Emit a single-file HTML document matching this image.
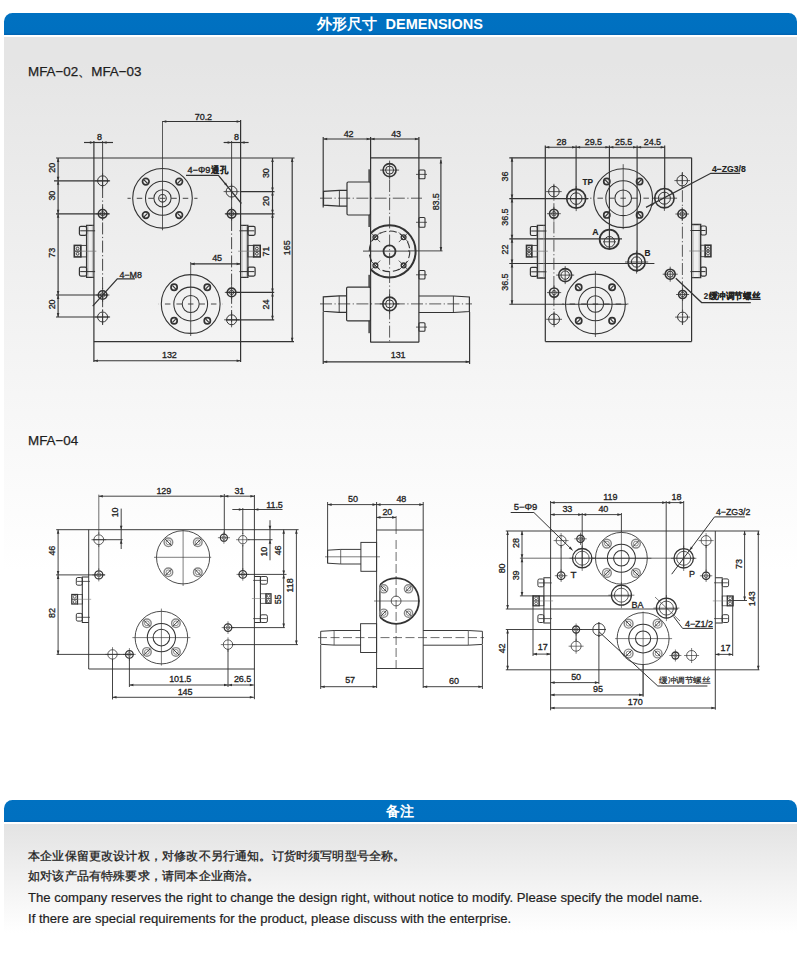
<!DOCTYPE html>
<html><head><meta charset="utf-8">
<style>
html,body{margin:0;padding:0;background:#fff;width:797px;height:964px;overflow:hidden;font-family:"Liberation Sans",sans-serif;}
.bar{position:absolute;left:4px;width:792.5px;height:22px;background:linear-gradient(#0071c1 0,#0070c0 19.5px,#0062b0 22px);border-radius:8.5px 8.5px 0 0;color:#fff;font-weight:bold;font-size:14.5px;text-align:center;line-height:22px;}
.panel1{position:absolute;left:4px;top:36.5px;width:793px;height:540px;background:linear-gradient(#e5e5e5 0px,#e5e5e5 24px,#ffffff 534px);}
.panel2{position:absolute;left:4px;top:823.5px;width:793px;height:110px;background:linear-gradient(#e3e3e3 0px,#ffffff 109px);}
.lbl{position:absolute;font-size:13.4px;color:#1e1e1e;white-space:nowrap;-webkit-text-stroke:0.25px #1e1e1e;}
.note{position:absolute;left:28px;font-size:13.1px;color:#1e1e1e;white-space:nowrap;-webkit-text-stroke:0.2px #1e1e1e;}
svg{position:absolute;left:0;top:0;}
</style></head><body>
<div class="panel1"></div>
<div class="bar" style="top:12.8px;">外形尺寸&nbsp; DEMENSIONS</div>
<div class="lbl" style="left:28px;top:62.5px;">MFA−02、MFA−03</div>
<div class="lbl" style="left:28px;top:432.6px;">MFA−04</div>
<div class="panel2"></div>
<div class="bar" style="top:800px;font-size:14px;">备注</div>
<div class="note" style="top:848px;font-size:12.2px;letter-spacing:0.18px;-webkit-text-stroke:0.3px #1e1e1e;">本企业保留更改设计权，对修改不另行通知。订货时须写明型号全称。</div>
<div class="note" style="top:868px;font-size:12.2px;letter-spacing:0.18px;-webkit-text-stroke:0.3px #1e1e1e;">如对该产品有特殊要求，请同本企业商洽。</div>
<div class="note" style="top:890px;">The company reserves the right to change the design right, without notice to modify. Please specify the model name.</div>
<div class="note" style="top:911px;">If there are special requirements for the product, please discuss with the enterprise.</div>
<svg width="797" height="964" viewBox="0 0 797 964" font-family="Liberation Sans, sans-serif" fill="none" stroke="#333">

<line x1="56" y1="158" x2="294.5" y2="158" stroke-width="1.2"/>
<line x1="93.9" y1="141" x2="93.9" y2="362" stroke-width="1.2"/>
<line x1="240.6" y1="120" x2="240.6" y2="362" stroke-width="1.2"/>
<line x1="93.9" y1="341.7" x2="294" y2="341.7" stroke-width="1.2"/>
<line x1="102.6" y1="141" x2="102.6" y2="186" stroke-width="0.9"/>
<line x1="102.6" y1="186" x2="102.6" y2="325" stroke-width="0.9" stroke-dasharray="12,2.5,1.2,2.5"/>
<line x1="231.6" y1="141" x2="231.6" y2="219" stroke-width="0.9"/>
<line x1="231.6" y1="219" x2="231.6" y2="325" stroke-width="0.9" stroke-dasharray="12,2.5,1.2,2.5"/>
<line x1="84" y1="142.5" x2="113" y2="142.5" stroke-width="1.15"/>
<polygon points="93.9,142.5 89.9,143.8 89.9,141.2" fill="#333" stroke="none"/>
<polygon points="102.6,142.5 106.6,141.2 106.6,143.8" fill="#333" stroke="none"/>
<text fill="#222" stroke="#222" stroke-width="0.3" x="99.4" y="137" font-size="9" text-anchor="middle" dominant-baseline="central" letter-spacing="-0.1">8</text>
<line x1="223.6" y1="142.5" x2="248.6" y2="142.5" stroke-width="1.15"/>
<polygon points="231.6,142.5 227.6,143.8 227.6,141.2" fill="#333" stroke="none"/>
<polygon points="240.6,142.5 244.6,141.2 244.6,143.8" fill="#333" stroke="none"/>
<text fill="#222" stroke="#222" stroke-width="0.3" x="236.5" y="137" font-size="9" text-anchor="middle" dominant-baseline="central" letter-spacing="-0.1">8</text>
<line x1="162.3" y1="121.5" x2="240.6" y2="121.5" stroke-width="1.15"/>
<polygon points="162.3,121.5 166.3,120.2 166.3,122.8" fill="#333" stroke="none"/>
<polygon points="240.6,121.5 236.6,122.8 236.6,120.2" fill="#333" stroke="none"/>
<text fill="#222" stroke="#222" stroke-width="0.3" x="203.4" y="116.8" font-size="9" text-anchor="middle" dominant-baseline="central" letter-spacing="-0.1">70.2</text>
<line x1="54" y1="180.8" x2="109.5" y2="180.8" stroke-width="1.15"/>
<line x1="56" y1="213.8" x2="109.5" y2="213.8" stroke-width="1.15"/>
<line x1="56" y1="295" x2="108" y2="295" stroke-width="1.15"/>
<line x1="56" y1="317" x2="109.5" y2="317" stroke-width="1.15"/>
<line x1="58.1" y1="158" x2="58.1" y2="213.8" stroke-width="1.15"/>
<polygon points="58.1,158 59.4,162 56.8,162" fill="#333" stroke="none"/>
<polygon points="58.1,180.8 56.8,176.8 59.4,176.8" fill="#333" stroke="none"/>
<text fill="#222" stroke="#222" stroke-width="0.3" x="52.3" y="167.8" font-size="9" text-anchor="middle" dominant-baseline="central" transform="rotate(-90 52.3 167.8)" letter-spacing="-0.1">20</text>
<polygon points="58.1,180.8 59.4,184.8 56.8,184.8" fill="#333" stroke="none"/>
<polygon points="58.1,213.8 56.8,209.8 59.4,209.8" fill="#333" stroke="none"/>
<text fill="#222" stroke="#222" stroke-width="0.3" x="52.3" y="195.7" font-size="9" text-anchor="middle" dominant-baseline="central" transform="rotate(-90 52.3 195.7)" letter-spacing="-0.1">30</text>
<line x1="58.1" y1="213.8" x2="58.1" y2="317" stroke-width="1.15"/>
<polygon points="58.1,213.8 59.4,217.8 56.8,217.8" fill="#333" stroke="none"/>
<polygon points="58.1,295 56.8,291 59.4,291" fill="#333" stroke="none"/>
<text fill="#222" stroke="#222" stroke-width="0.3" x="52.3" y="252.8" font-size="9" text-anchor="middle" dominant-baseline="central" transform="rotate(-90 52.3 252.8)" letter-spacing="-0.1">73</text>
<polygon points="58.1,295 59.4,299 56.8,299" fill="#333" stroke="none"/>
<polygon points="58.1,317 56.8,313 59.4,313" fill="#333" stroke="none"/>
<text fill="#222" stroke="#222" stroke-width="0.3" x="52.3" y="304.4" font-size="9" text-anchor="middle" dominant-baseline="central" transform="rotate(-90 52.3 304.4)" letter-spacing="-0.1">20</text>
<line x1="240.6" y1="191.6" x2="274.5" y2="191.6" stroke-width="1.15"/>
<line x1="225.4" y1="213.8" x2="274.5" y2="213.8" stroke-width="1.15"/>
<line x1="225.9" y1="292.4" x2="274.2" y2="292.4" stroke-width="1.15"/>
<line x1="225.9" y1="319.8" x2="274.2" y2="319.8" stroke-width="1.15"/>
<line x1="272.5" y1="158" x2="272.5" y2="319.8" stroke-width="1.15"/>
<polygon points="272.5,158 273.8,162 271.2,162" fill="#333" stroke="none"/>
<polygon points="272.5,191.6 271.2,187.6 273.8,187.6" fill="#333" stroke="none"/>
<text fill="#222" stroke="#222" stroke-width="0.3" x="266.3" y="173.2" font-size="9" text-anchor="middle" dominant-baseline="central" transform="rotate(-90 266.3 173.2)" letter-spacing="-0.1">30</text>
<polygon points="272.5,191.6 273.8,195.6 271.2,195.6" fill="#333" stroke="none"/>
<polygon points="272.5,213.8 271.2,209.8 273.8,209.8" fill="#333" stroke="none"/>
<text fill="#222" stroke="#222" stroke-width="0.3" x="266.3" y="201.1" font-size="9" text-anchor="middle" dominant-baseline="central" transform="rotate(-90 266.3 201.1)" letter-spacing="-0.1">20</text>
<polygon points="272.5,213.8 273.8,217.8 271.2,217.8" fill="#333" stroke="none"/>
<polygon points="272.5,292.4 271.2,288.4 273.8,288.4" fill="#333" stroke="none"/>
<text fill="#222" stroke="#222" stroke-width="0.3" x="266.3" y="251.5" font-size="9" text-anchor="middle" dominant-baseline="central" transform="rotate(-90 266.3 251.5)" letter-spacing="-0.1">71</text>
<polygon points="272.5,292.4 273.8,296.4 271.2,296.4" fill="#333" stroke="none"/>
<polygon points="272.5,319.8 271.2,315.8 273.8,315.8" fill="#333" stroke="none"/>
<text fill="#222" stroke="#222" stroke-width="0.3" x="266.3" y="304.5" font-size="9" text-anchor="middle" dominant-baseline="central" transform="rotate(-90 266.3 304.5)" letter-spacing="-0.1">24</text>
<line x1="292.2" y1="158" x2="292.2" y2="341.7" stroke-width="1.15"/>
<polygon points="292.2,158 293.5,162 290.9,162" fill="#333" stroke="none"/>
<polygon points="292.2,341.7 290.9,337.7 293.5,337.7" fill="#333" stroke="none"/>
<text fill="#222" stroke="#222" stroke-width="0.3" x="286.8" y="247.8" font-size="9" text-anchor="middle" dominant-baseline="central" transform="rotate(-90 286.8 247.8)" letter-spacing="-0.1">165</text>
<line x1="93.9" y1="360.7" x2="240.6" y2="360.7" stroke-width="1.15"/>
<polygon points="93.9,360.7 97.9,359.4 97.9,362" fill="#333" stroke="none"/>
<polygon points="240.6,360.7 236.6,362 236.6,359.4" fill="#333" stroke="none"/>
<text fill="#222" stroke="#222" stroke-width="0.3" x="169.4" y="355.2" font-size="9" text-anchor="middle" dominant-baseline="central" letter-spacing="-0.1">132</text>
<line x1="190.7" y1="262" x2="190.7" y2="262" stroke-width="1.15"/>
<line x1="190.7" y1="263.9" x2="240.6" y2="263.9" stroke-width="1.15"/>
<polygon points="190.7,263.9 194.7,262.6 194.7,265.2" fill="#333" stroke="none"/>
<polygon points="240.6,263.9 236.6,265.2 236.6,262.6" fill="#333" stroke="none"/>
<text fill="#222" stroke="#222" stroke-width="0.3" x="217.1" y="258" font-size="9" text-anchor="middle" dominant-baseline="central" letter-spacing="-0.1">45</text>
<circle cx="102.6" cy="180.8" r="5" stroke-width="1"/>
<line x1="95.1" y1="180.8" x2="110.1" y2="180.8" stroke-width="0.8"/>
<line x1="102.6" y1="173.3" x2="102.6" y2="188.3" stroke-width="0.8"/>
<circle cx="102.6" cy="213.8" r="4.3" stroke-width="1.6"/>
<circle cx="102.6" cy="213.8" r="2.2" stroke-width="0.8"/>
<line x1="95.8" y1="213.8" x2="109.4" y2="213.8" stroke-width="0.8"/>
<line x1="102.6" y1="207" x2="102.6" y2="220.6" stroke-width="0.8"/>
<circle cx="102.6" cy="295" r="4.3" stroke-width="1.6"/>
<circle cx="102.6" cy="295" r="2.2" stroke-width="0.8"/>
<line x1="95.8" y1="295" x2="109.4" y2="295" stroke-width="0.8"/>
<line x1="102.6" y1="288.2" x2="102.6" y2="301.8" stroke-width="0.8"/>
<circle cx="102.6" cy="317" r="5" stroke-width="1"/>
<line x1="95.1" y1="317" x2="110.1" y2="317" stroke-width="0.8"/>
<line x1="102.6" y1="309.5" x2="102.6" y2="324.5" stroke-width="0.8"/>
<circle cx="231.6" cy="191.6" r="5.5" stroke-width="1"/>
<line x1="223.6" y1="191.6" x2="239.6" y2="191.6" stroke-width="0.8"/>
<line x1="231.6" y1="183.6" x2="231.6" y2="199.6" stroke-width="0.8"/>
<circle cx="231.6" cy="213.8" r="4.3" stroke-width="1.6"/>
<circle cx="231.6" cy="213.8" r="2.2" stroke-width="0.8"/>
<line x1="224.8" y1="213.8" x2="238.4" y2="213.8" stroke-width="0.8"/>
<line x1="231.6" y1="207" x2="231.6" y2="220.6" stroke-width="0.8"/>
<circle cx="231.6" cy="292.4" r="4.3" stroke-width="1.6"/>
<circle cx="231.6" cy="292.4" r="2.2" stroke-width="0.8"/>
<line x1="224.8" y1="292.4" x2="238.4" y2="292.4" stroke-width="0.8"/>
<line x1="231.6" y1="285.6" x2="231.6" y2="299.2" stroke-width="0.8"/>
<circle cx="231.6" cy="319.8" r="5" stroke-width="1"/>
<line x1="224.1" y1="319.8" x2="239.1" y2="319.8" stroke-width="0.8"/>
<line x1="231.6" y1="312.3" x2="231.6" y2="327.3" stroke-width="0.8"/>
<circle cx="162.5" cy="198.3" r="29.8" stroke-width="1.1"/>
<circle cx="162.5" cy="198.3" r="17" stroke-width="1.05"/>
<circle cx="162.5" cy="198.3" r="8.6" stroke-width="1.05"/>
<circle cx="162.5" cy="198.3" r="3.8" stroke-width="1.05"/>
<circle cx="145.8" cy="181.6" r="3.3" stroke-width="1.7"/>
<line x1="147.5" y1="183.3" x2="144" y2="179.8" stroke-width="1.2"/>
<circle cx="145.8" cy="215.1" r="3.3" stroke-width="1.7"/>
<line x1="147.5" y1="213.3" x2="144" y2="216.8" stroke-width="1.2"/>
<circle cx="179.2" cy="181.6" r="3.3" stroke-width="1.7"/>
<line x1="177.5" y1="183.3" x2="181" y2="179.8" stroke-width="1.2"/>
<circle cx="179.2" cy="215.1" r="3.3" stroke-width="1.7"/>
<line x1="177.5" y1="213.3" x2="181" y2="216.8" stroke-width="1.2"/>
<line x1="127.5" y1="198.3" x2="197.5" y2="198.3" stroke-width="0.9" stroke-dasharray="5.5,6" stroke-dashoffset="2.25"/>
<line x1="162.5" y1="121.3" x2="162.5" y2="230.3" stroke-width="0.8"/>
<circle cx="190.7" cy="304" r="29.4" stroke-width="1.1"/>
<circle cx="190.7" cy="304" r="16.9" stroke-width="1.05"/>
<circle cx="190.7" cy="304" r="8.5" stroke-width="1.05"/>
<circle cx="174.1" cy="287.3" r="3.1" stroke-width="1.7"/>
<line x1="175.7" y1="288.9" x2="172.5" y2="285.7" stroke-width="1.2"/>
<circle cx="174.1" cy="320.7" r="3.1" stroke-width="1.7"/>
<line x1="175.7" y1="319.1" x2="172.5" y2="322.3" stroke-width="1.2"/>
<circle cx="207.3" cy="287.3" r="3.1" stroke-width="1.7"/>
<line x1="205.7" y1="288.9" x2="208.9" y2="285.7" stroke-width="1.2"/>
<circle cx="207.3" cy="320.7" r="3.1" stroke-width="1.7"/>
<line x1="205.7" y1="319.1" x2="208.9" y2="322.3" stroke-width="1.2"/>
<line x1="158.7" y1="304" x2="222.7" y2="304" stroke-width="0.9" stroke-dasharray="5.5,6" stroke-dashoffset="5.25"/>
<line x1="190.7" y1="262" x2="190.7" y2="336" stroke-width="0.8"/>
<polyline points="93.9,225.4 86.6,225.4 86.6,277.3 93.9,277.3" stroke-width="1.3"/>
<line x1="92.4" y1="225.4" x2="92.4" y2="277.3" stroke-width="0.6" stroke="#999"/>
<line x1="88.1" y1="225.4" x2="88.1" y2="277.3" stroke-width="0.6" stroke="#999"/>
<rect x="79.4" y="226.3" width="7.2" height="9" stroke-width="1.2" rx="1.5"/>
<line x1="80.2" y1="230.8" x2="95.1" y2="230.8" stroke-width="1"/>
<rect x="79.4" y="267.1" width="7.2" height="9" stroke-width="1.2" rx="1.5"/>
<line x1="80.2" y1="271.6" x2="95.1" y2="271.6" stroke-width="1"/>
<rect x="80.8" y="245.4" width="5.8" height="11.5" stroke-width="0.9"/>
<rect x="74.3" y="245.4" width="6.5" height="11.5" stroke-width="1.6"/>
<circle cx="77.6" cy="248.6" r="1.4" stroke-width="0.9"/>
<circle cx="77.6" cy="253.8" r="1.4" stroke-width="0.9"/>
<line x1="74.3" y1="251.2" x2="80.8" y2="251.2" stroke-width="1.2"/>
<line x1="74.3" y1="251.2" x2="96.4" y2="251.2" stroke-width="0.7" stroke="#777"/>
<polyline points="240.6,225.4 247.9,225.4 247.9,277.3 240.6,277.3" stroke-width="1.3"/>
<line x1="242.1" y1="225.4" x2="242.1" y2="277.3" stroke-width="0.6" stroke="#999"/>
<line x1="246.4" y1="225.4" x2="246.4" y2="277.3" stroke-width="0.6" stroke="#999"/>
<rect x="247.9" y="226.3" width="7.2" height="9" stroke-width="1.2" rx="1.5"/>
<line x1="254.3" y1="230.8" x2="239.4" y2="230.8" stroke-width="1"/>
<rect x="247.9" y="267.1" width="7.2" height="9" stroke-width="1.2" rx="1.5"/>
<line x1="254.3" y1="271.6" x2="239.4" y2="271.6" stroke-width="1"/>
<rect x="247.9" y="245.4" width="5.8" height="11.5" stroke-width="0.9"/>
<rect x="253.7" y="245.4" width="6.5" height="11.5" stroke-width="1.6"/>
<circle cx="256.9" cy="248.6" r="1.4" stroke-width="0.9"/>
<circle cx="256.9" cy="253.8" r="1.4" stroke-width="0.9"/>
<line x1="253.7" y1="251.2" x2="260.2" y2="251.2" stroke-width="1.2"/>
<line x1="260.2" y1="251.2" x2="238.1" y2="251.2" stroke-width="0.7" stroke="#777"/>
<text fill="#222" stroke="#222" stroke-width="0.35" x="187.5" y="170.4" font-size="9" text-anchor="start" dominant-baseline="central" textLength="22.8" lengthAdjust="spacingAndGlyphs">4−Φ9</text>
<text fill="#222" stroke="#222" stroke-width="0.15" x="211.2" y="170.4" font-size="8.5" text-anchor="start" dominant-baseline="central" font-weight="bold" textLength="16.7" lengthAdjust="spacingAndGlyphs">通孔</text>
<polyline points="186,175.3 218.4,175.3 241.4,203.5" stroke-width="1.25"/>
<polygon points="227.5,186.3 224,184 226,182.4" fill="#333" stroke="none"/>
<text fill="#222" stroke="#222" stroke-width="0.3" x="119.4" y="274.6" font-size="9" text-anchor="start" dominant-baseline="central" textLength="22.6" lengthAdjust="spacingAndGlyphs">4−M8</text>
<polyline points="134.9,278.8 117.3,278.8 92.7,306.1" stroke-width="1.25"/>
<line x1="323.2" y1="139" x2="418.9" y2="139" stroke-width="1.15"/>
<polygon points="323.2,139 327.2,137.7 327.2,140.3" fill="#333" stroke="none"/>
<polygon points="370.6,139 366.6,140.3 366.6,137.7" fill="#333" stroke="none"/>
<polygon points="370.6,139 374.6,137.7 374.6,140.3" fill="#333" stroke="none"/>
<polygon points="418.9,139 414.9,140.3 414.9,137.7" fill="#333" stroke="none"/>
<text fill="#222" stroke="#222" stroke-width="0.3" x="348.6" y="133.7" font-size="9" text-anchor="middle" dominant-baseline="central" letter-spacing="-0.1">42</text>
<text fill="#222" stroke="#222" stroke-width="0.3" x="396.1" y="133.7" font-size="9" text-anchor="middle" dominant-baseline="central" letter-spacing="-0.1">43</text>
<line x1="323.2" y1="137" x2="323.2" y2="207.5" stroke-width="1.15"/>
<line x1="370.6" y1="137" x2="370.6" y2="342.2" stroke-width="1.2"/>
<line x1="418.9" y1="137" x2="418.9" y2="342.2" stroke-width="1.2"/>
<line x1="370.6" y1="157.8" x2="441.7" y2="157.8" stroke-width="1.2"/>
<line x1="370.4" y1="342.2" x2="418.9" y2="342.2" stroke-width="1.2"/>
<line x1="369.3" y1="169.3" x2="369.3" y2="182" stroke-width="2" stroke="#555"/>
<line x1="369.3" y1="215" x2="369.3" y2="227" stroke-width="2" stroke="#555"/>
<line x1="369.3" y1="274.8" x2="369.3" y2="287.1" stroke-width="2" stroke="#555"/>
<line x1="369.3" y1="320.9" x2="369.3" y2="333.2" stroke-width="2" stroke="#555"/>
<rect x="347" y="182" width="23.3" height="33" stroke-width="1.2" rx="1.2"/>
<polyline points="347,190.4 339.4,190.4 323.5,191.4 323.5,205.2 339.4,206.2 347,206.2" stroke-width="1.2"/>
<line x1="339.4" y1="190.4" x2="339.4" y2="206.2" stroke-width="0.9"/>
<line x1="320" y1="198.2" x2="422" y2="198.2" stroke-width="0.8" stroke-dasharray="12,2.5,1.2,2.5"/>
<circle cx="389.6" cy="170.1" r="6.5" stroke-width="1.6"/>
<circle cx="389.6" cy="170.1" r="4" stroke-width="1"/>
<line x1="380.1" y1="170.1" x2="399.1" y2="170.1" stroke-width="0.8"/>
<line x1="389.6" y1="160.6" x2="389.6" y2="179.6" stroke-width="0.8"/>
<line x1="389.6" y1="180" x2="389.6" y2="342" stroke-width="0.8" stroke-dasharray="12,2.5,1.2,2.5"/>
<rect x="418.9" y="170" width="6.1" height="8.8" stroke-width="1.1" rx="1"/>
<line x1="416" y1="174.4" x2="427" y2="174.4" stroke-width="0.8"/>
<rect x="418.9" y="217.5" width="6.1" height="9.7" stroke-width="1.1" rx="1"/>
<line x1="416" y1="222.3" x2="427" y2="222.3" stroke-width="0.8"/>
<rect x="418.9" y="270.5" width="6.1" height="8.5" stroke-width="1.1" rx="1"/>
<line x1="416" y1="274.8" x2="427" y2="274.8" stroke-width="0.8"/>
<rect x="418.9" y="322.8" width="6.1" height="8.5" stroke-width="1.1" rx="1"/>
<line x1="416" y1="327.1" x2="427" y2="327.1" stroke-width="0.8"/>
<line x1="440.9" y1="159.5" x2="440.9" y2="250.9" stroke-width="1.15"/>
<polygon points="440.9,159.5 442.2,163.5 439.6,163.5" fill="#333" stroke="none"/>
<polygon points="440.9,250.9 439.6,246.9 442.2,246.9" fill="#333" stroke="none"/>
<text fill="#222" stroke="#222" stroke-width="0.3" x="435.6" y="201.8" font-size="9" text-anchor="middle" dominant-baseline="central" transform="rotate(-90 435.6 201.8)" letter-spacing="-0.1">83.5</text>
<line x1="408" y1="250.9" x2="442.5" y2="250.9" stroke-width="0.9"/>
<defs><clipPath id="cp2"><rect x="370.6" y="200" width="60" height="100"/></clipPath></defs>
<g clip-path="url(#cp2)">
<circle cx="389.5" cy="251.3" r="26.1" stroke-width="2"/>
</g>
<circle cx="389.5" cy="251.3" r="20.3" stroke-width="1.1" stroke-dasharray="7,3.6"/>
<circle cx="389.5" cy="251.3" r="6" stroke-width="1.8"/>
<circle cx="375.4" cy="237.2" r="2.4" stroke-width="1.3"/>
<line x1="370.6" y1="232.4" x2="380.2" y2="242.1" stroke-width="0.8"/>
<line x1="370.6" y1="242.1" x2="380.2" y2="232.4" stroke-width="0.8"/>
<circle cx="375.4" cy="265.4" r="2.4" stroke-width="1.3"/>
<line x1="370.6" y1="260.6" x2="380.2" y2="270.2" stroke-width="0.8"/>
<line x1="370.6" y1="270.2" x2="380.2" y2="260.6" stroke-width="0.8"/>
<circle cx="403.6" cy="237.2" r="2.4" stroke-width="1.3"/>
<line x1="398.8" y1="232.4" x2="408.4" y2="242.1" stroke-width="0.8"/>
<line x1="398.8" y1="242.1" x2="408.4" y2="232.4" stroke-width="0.8"/>
<circle cx="403.6" cy="265.4" r="2.4" stroke-width="1.3"/>
<line x1="398.8" y1="260.6" x2="408.4" y2="270.2" stroke-width="0.8"/>
<line x1="398.8" y1="270.2" x2="408.4" y2="260.6" stroke-width="0.8"/>
<line x1="363" y1="251.1" x2="410" y2="251.1" stroke-width="0.9"/>
<rect x="346.6" y="287.1" width="23.8" height="33.8" stroke-width="1.2" rx="1.2"/>
<polyline points="346.6,295.9 339.2,295.9 323.3,296.9 323.3,311.3 339.2,312.3 346.6,312.3" stroke-width="1.2"/>
<line x1="339.2" y1="295.9" x2="339.2" y2="312.3" stroke-width="0.9"/>
<polyline points="418.9,296 453.4,296 469.4,297 469.4,311.5 453.4,312.5 418.9,312.5" stroke-width="1.2"/>
<line x1="453.4" y1="296" x2="453.4" y2="312.5" stroke-width="0.9"/>
<line x1="320" y1="303.9" x2="472" y2="303.9" stroke-width="0.8" stroke-dasharray="12,2.5,1.2,2.5"/>
<circle cx="389.6" cy="303.9" r="6.8" stroke-width="1.6"/>
<circle cx="389.6" cy="303.9" r="4" stroke-width="1"/>
<line x1="379.8" y1="303.9" x2="399.4" y2="303.9" stroke-width="0.8"/>
<line x1="389.6" y1="294.1" x2="389.6" y2="313.7" stroke-width="0.8"/>
<line x1="323.2" y1="361.8" x2="469.6" y2="361.8" stroke-width="1.15"/>
<polygon points="323.2,361.8 327.2,360.5 327.2,363.1" fill="#333" stroke="none"/>
<polygon points="469.6,361.8 465.6,363.1 465.6,360.5" fill="#333" stroke="none"/>
<text fill="#222" stroke="#222" stroke-width="0.3" x="398.1" y="355.4" font-size="9" text-anchor="middle" dominant-baseline="central" letter-spacing="-0.1">131</text>
<line x1="323.2" y1="312" x2="323.2" y2="364" stroke-width="1.15"/>
<line x1="469.6" y1="312" x2="469.6" y2="364" stroke-width="1.15"/>
<line x1="509.3" y1="157.8" x2="691.6" y2="157.8" stroke-width="1.2"/>
<line x1="545.3" y1="145.5" x2="545.3" y2="341.6" stroke-width="1.2"/>
<line x1="691.6" y1="157.8" x2="691.6" y2="341.6" stroke-width="1.2"/>
<line x1="545.3" y1="341.6" x2="691.6" y2="341.6" stroke-width="1.2"/>
<line x1="545.3" y1="147.2" x2="664.7" y2="147.2" stroke-width="1.15"/>
<polygon points="545.3,147.2 549.3,145.9 549.3,148.5" fill="#333" stroke="none"/>
<polygon points="576.1,147.2 572.1,148.5 572.1,145.9" fill="#333" stroke="none"/>
<text fill="#222" stroke="#222" stroke-width="0.3" x="561.5" y="142" font-size="9" text-anchor="middle" dominant-baseline="central" letter-spacing="-0.1">28</text>
<polygon points="576.1,147.2 580.1,145.9 580.1,148.5" fill="#333" stroke="none"/>
<polygon points="609.4,147.2 605.4,148.5 605.4,145.9" fill="#333" stroke="none"/>
<text fill="#222" stroke="#222" stroke-width="0.3" x="593.3" y="142" font-size="9" text-anchor="middle" dominant-baseline="central" letter-spacing="-0.1">29.5</text>
<polygon points="609.4,147.2 613.4,145.9 613.4,148.5" fill="#333" stroke="none"/>
<polygon points="637.1,147.2 633.1,148.5 633.1,145.9" fill="#333" stroke="none"/>
<text fill="#222" stroke="#222" stroke-width="0.3" x="623.6" y="142" font-size="9" text-anchor="middle" dominant-baseline="central" letter-spacing="-0.1">25.5</text>
<polygon points="637.1,147.2 641.1,145.9 641.1,148.5" fill="#333" stroke="none"/>
<polygon points="664.7,147.2 660.7,148.5 660.7,145.9" fill="#333" stroke="none"/>
<text fill="#222" stroke="#222" stroke-width="0.3" x="652.4" y="142" font-size="9" text-anchor="middle" dominant-baseline="central" letter-spacing="-0.1">24.5</text>
<line x1="576.1" y1="145.5" x2="576.1" y2="208" stroke-width="1.15"/>
<line x1="609.4" y1="145.5" x2="609.4" y2="249" stroke-width="1.15"/>
<line x1="637.1" y1="145.5" x2="637.1" y2="272" stroke-width="1.15"/>
<line x1="664.7" y1="145.5" x2="664.7" y2="207" stroke-width="1.15"/>
<line x1="509.3" y1="198.6" x2="588" y2="198.6" stroke-width="1.15"/>
<line x1="509.3" y1="238.8" x2="622" y2="238.8" stroke-width="1.15"/>
<line x1="509.3" y1="263.5" x2="654.4" y2="263.5" stroke-width="1.15"/>
<line x1="509.3" y1="304.2" x2="627" y2="304.2" stroke-width="1.15"/>
<line x1="512" y1="157.8" x2="512" y2="304.2" stroke-width="1.15"/>
<polygon points="512,157.8 513.3,161.8 510.7,161.8" fill="#333" stroke="none"/>
<polygon points="512,198.6 510.7,194.6 513.3,194.6" fill="#333" stroke="none"/>
<text fill="#222" stroke="#222" stroke-width="0.3" x="505.5" y="176.6" font-size="9" text-anchor="middle" dominant-baseline="central" transform="rotate(-90 505.5 176.6)" letter-spacing="-0.1">36</text>
<polygon points="512,198.6 513.3,202.6 510.7,202.6" fill="#333" stroke="none"/>
<polygon points="512,238.8 510.7,234.8 513.3,234.8" fill="#333" stroke="none"/>
<text fill="#222" stroke="#222" stroke-width="0.3" x="505.5" y="217.1" font-size="9" text-anchor="middle" dominant-baseline="central" transform="rotate(-90 505.5 217.1)" letter-spacing="-0.1">36.5</text>
<polygon points="512,238.8 513.3,242.8 510.7,242.8" fill="#333" stroke="none"/>
<polygon points="512,263.5 510.7,259.5 513.3,259.5" fill="#333" stroke="none"/>
<text fill="#222" stroke="#222" stroke-width="0.3" x="505.5" y="249.6" font-size="9" text-anchor="middle" dominant-baseline="central" transform="rotate(-90 505.5 249.6)" letter-spacing="-0.1">22</text>
<polygon points="512,263.5 513.3,267.5 510.7,267.5" fill="#333" stroke="none"/>
<polygon points="512,304.2 510.7,300.2 513.3,300.2" fill="#333" stroke="none"/>
<text fill="#222" stroke="#222" stroke-width="0.3" x="505.5" y="282.2" font-size="9" text-anchor="middle" dominant-baseline="central" transform="rotate(-90 505.5 282.2)" letter-spacing="-0.1">36.5</text>
<line x1="553.9" y1="185" x2="553.9" y2="326" stroke-width="0.8" stroke-dasharray="12,2.5,1.2,2.5"/>
<circle cx="553.9" cy="191.6" r="5.3" stroke-width="1"/>
<line x1="546.1" y1="191.6" x2="561.7" y2="191.6" stroke-width="0.8"/>
<line x1="553.9" y1="183.8" x2="553.9" y2="199.4" stroke-width="0.8"/>
<circle cx="553.9" cy="213.7" r="4.4" stroke-width="1.6"/>
<circle cx="553.9" cy="213.7" r="2.2" stroke-width="0.8"/>
<line x1="547" y1="213.7" x2="560.8" y2="213.7" stroke-width="0.8"/>
<line x1="553.9" y1="206.8" x2="553.9" y2="220.6" stroke-width="0.8"/>
<circle cx="554.1" cy="292.6" r="4.6" stroke-width="1.6"/>
<circle cx="554.1" cy="292.6" r="2.2" stroke-width="0.8"/>
<line x1="547" y1="292.6" x2="561.2" y2="292.6" stroke-width="0.8"/>
<line x1="554.1" y1="285.5" x2="554.1" y2="299.7" stroke-width="0.8"/>
<circle cx="554.1" cy="319.3" r="5.4" stroke-width="1"/>
<line x1="546.2" y1="319.3" x2="562" y2="319.3" stroke-width="0.8"/>
<line x1="554.1" y1="311.4" x2="554.1" y2="327.2" stroke-width="0.8"/>
<circle cx="623.2" cy="198.2" r="29.4" stroke-width="1.1"/>
<circle cx="623.2" cy="198.2" r="17.4" stroke-width="1.05"/>
<circle cx="623.2" cy="198.2" r="8.3" stroke-width="1.05"/>
<circle cx="606.8" cy="181.5" r="3.1" stroke-width="1.7"/>
<line x1="608.4" y1="183.2" x2="605.2" y2="179.8" stroke-width="1.2"/>
<circle cx="606.8" cy="214.9" r="3.1" stroke-width="1.7"/>
<line x1="608.4" y1="213.2" x2="605.2" y2="216.6" stroke-width="1.2"/>
<circle cx="639.6" cy="181.5" r="3.1" stroke-width="1.7"/>
<line x1="638" y1="183.2" x2="641.2" y2="179.8" stroke-width="1.2"/>
<circle cx="639.6" cy="214.9" r="3.1" stroke-width="1.7"/>
<line x1="638" y1="213.2" x2="641.2" y2="216.6" stroke-width="1.2"/>
<line x1="590.2" y1="198.2" x2="656.2" y2="198.2" stroke-width="0.9" stroke-dasharray="5.5,6" stroke-dashoffset="4.25"/>
<line x1="623.2" y1="164.2" x2="623.2" y2="229.2" stroke-width="0.8"/>
<circle cx="595.4" cy="304" r="29.9" stroke-width="1.1"/>
<circle cx="595.4" cy="304" r="16.7" stroke-width="1.05"/>
<circle cx="595.4" cy="304" r="8.2" stroke-width="1.05"/>
<circle cx="578.7" cy="287.3" r="3.1" stroke-width="1.7"/>
<line x1="580.3" y1="288.9" x2="577.1" y2="285.7" stroke-width="1.2"/>
<circle cx="578.7" cy="320.7" r="3.1" stroke-width="1.7"/>
<line x1="580.3" y1="319.1" x2="577.1" y2="322.3" stroke-width="1.2"/>
<circle cx="612.1" cy="287.3" r="3.1" stroke-width="1.7"/>
<line x1="610.5" y1="288.9" x2="613.7" y2="285.7" stroke-width="1.2"/>
<circle cx="612.1" cy="320.7" r="3.1" stroke-width="1.7"/>
<line x1="610.5" y1="319.1" x2="613.7" y2="322.3" stroke-width="1.2"/>
<line x1="562.4" y1="304" x2="628.4" y2="304" stroke-width="0.9" stroke-dasharray="5.5,6" stroke-dashoffset="4.25"/>
<line x1="595.4" y1="271" x2="595.4" y2="337" stroke-width="0.8"/>
<circle cx="576.2" cy="198.6" r="9.5" stroke-width="1.6"/>
<circle cx="576.2" cy="198.6" r="5.8" stroke-width="1"/>
<line x1="563.7" y1="198.6" x2="588.7" y2="198.6" stroke-width="0.8"/>
<line x1="576.2" y1="186.1" x2="576.2" y2="211.1" stroke-width="0.8"/>
<text fill="#222" stroke="#222" stroke-width="0.15" x="582.4" y="182.4" font-size="8.5" text-anchor="start" dominant-baseline="central" font-weight="bold" textLength="10.6" lengthAdjust="spacingAndGlyphs">TP</text>
<circle cx="609.4" cy="239.4" r="9.7" stroke-width="1.8"/>
<circle cx="609.4" cy="241.8" r="5.3" stroke-width="1"/>
<line x1="603" y1="241.8" x2="616" y2="241.8" stroke-width="0.8"/>
<text fill="#222" stroke="#222" stroke-width="0.15" x="592.2" y="232.4" font-size="8.5" text-anchor="start" dominant-baseline="central" font-weight="bold" textLength="6.3" lengthAdjust="spacingAndGlyphs">A</text>
<circle cx="636.6" cy="262" r="8.6" stroke-width="1.6"/>
<circle cx="636.6" cy="262" r="5.2" stroke-width="1"/>
<line x1="625" y1="262" x2="648.2" y2="262" stroke-width="0.8"/>
<line x1="636.6" y1="250.4" x2="636.6" y2="273.6" stroke-width="0.8"/>
<text fill="#222" stroke="#222" stroke-width="0.15" x="644.5" y="252.7" font-size="8.5" text-anchor="start" dominant-baseline="central" font-weight="bold" textLength="6" lengthAdjust="spacingAndGlyphs">B</text>
<circle cx="565.2" cy="275.1" r="6.5" stroke-width="1.6"/>
<circle cx="565.2" cy="275.1" r="4.2" stroke-width="1"/>
<line x1="556.2" y1="275.1" x2="574.2" y2="275.1" stroke-width="0.8"/>
<line x1="565.2" y1="266.1" x2="565.2" y2="284.1" stroke-width="0.8"/>
<line x1="682.4" y1="172" x2="682.4" y2="325" stroke-width="0.8" stroke-dasharray="12,2.5,1.2,2.5"/>
<circle cx="682.2" cy="180.6" r="5.3" stroke-width="1"/>
<line x1="674.4" y1="180.6" x2="690" y2="180.6" stroke-width="0.8"/>
<line x1="682.2" y1="172.8" x2="682.2" y2="188.4" stroke-width="0.8"/>
<circle cx="682.2" cy="214" r="4.3" stroke-width="1.6"/>
<circle cx="682.2" cy="214" r="2.2" stroke-width="0.8"/>
<line x1="675.4" y1="214" x2="689" y2="214" stroke-width="0.8"/>
<line x1="682.2" y1="207.2" x2="682.2" y2="220.8" stroke-width="0.8"/>
<circle cx="682.6" cy="294.5" r="4" stroke-width="1.6"/>
<circle cx="682.6" cy="294.5" r="2.2" stroke-width="0.8"/>
<line x1="676.1" y1="294.5" x2="689.1" y2="294.5" stroke-width="0.8"/>
<line x1="682.6" y1="288" x2="682.6" y2="301" stroke-width="0.8"/>
<circle cx="682.6" cy="317.1" r="5" stroke-width="1"/>
<line x1="675.1" y1="317.1" x2="690.1" y2="317.1" stroke-width="0.8"/>
<line x1="682.6" y1="309.6" x2="682.6" y2="324.6" stroke-width="0.8"/>
<circle cx="670.2" cy="274.2" r="5" stroke-width="1.6"/>
<circle cx="670.2" cy="274.2" r="3" stroke-width="1"/>
<line x1="662.7" y1="274.2" x2="677.7" y2="274.2" stroke-width="0.8"/>
<line x1="670.2" y1="266.7" x2="670.2" y2="281.7" stroke-width="0.8"/>
<circle cx="664.4" cy="198.2" r="9.7" stroke-width="1.6"/>
<circle cx="664.4" cy="198.2" r="6" stroke-width="1"/>
<line x1="651.7" y1="198.2" x2="677.1" y2="198.2" stroke-width="0.8"/>
<line x1="664.4" y1="185.5" x2="664.4" y2="210.9" stroke-width="0.8"/>
<polyline points="646,207.4 710.8,173.3 740.1,173.3" stroke-width="1.25"/>
<polygon points="654.5,203.4 651.6,206.4 650.4,204.1" fill="#333" stroke="none"/>
<text fill="#222" stroke="#222" stroke-width="0.15" x="712" y="168.6" font-size="8.5" text-anchor="start" dominant-baseline="central" font-weight="bold" textLength="33.8" lengthAdjust="spacingAndGlyphs">4−ZG3/8</text>
<polyline points="675.8,278.3 701.6,302.5 750.8,302.5" stroke-width="1.25"/>
<text fill="#222" stroke="#222" stroke-width="0.15" x="703.8" y="295.8" font-size="9" text-anchor="start" dominant-baseline="central" font-weight="bold" textLength="4.4" lengthAdjust="spacingAndGlyphs">2</text>
<text fill="#222" stroke="#222" stroke-width="0.15" x="708.6" y="295.8" font-size="8.5" text-anchor="start" dominant-baseline="central" font-weight="bold" textLength="51.8" lengthAdjust="spacingAndGlyphs">缓冲调节螺丝</text>
<polyline points="545.3,225.3 537.4,225.3 537.4,278 545.3,278" stroke-width="1.3"/>
<line x1="543.8" y1="225.3" x2="543.8" y2="278" stroke-width="0.6" stroke="#999"/>
<line x1="538.9" y1="225.3" x2="538.9" y2="278" stroke-width="0.6" stroke="#999"/>
<rect x="530.4" y="226.5" width="7" height="9" stroke-width="1.2" rx="1.5"/>
<line x1="531.2" y1="231" x2="546.5" y2="231" stroke-width="1"/>
<rect x="530.4" y="267.3" width="7" height="9" stroke-width="1.2" rx="1.5"/>
<line x1="531.2" y1="271.8" x2="546.5" y2="271.8" stroke-width="1"/>
<rect x="531.8" y="245.4" width="5.6" height="11.5" stroke-width="0.9"/>
<rect x="526.5" y="245.4" width="5.3" height="11.5" stroke-width="1.6"/>
<circle cx="529.1" cy="248.6" r="1.4" stroke-width="0.9"/>
<circle cx="529.1" cy="253.8" r="1.4" stroke-width="0.9"/>
<line x1="526.5" y1="251.2" x2="531.8" y2="251.2" stroke-width="1.2"/>
<line x1="526.5" y1="251.2" x2="547.8" y2="251.2" stroke-width="0.7" stroke="#777"/>
<polyline points="691.6,224.5 700.7,224.5 700.7,277.6 691.6,277.6" stroke-width="1.3"/>
<line x1="693.1" y1="224.5" x2="693.1" y2="277.6" stroke-width="0.6" stroke="#999"/>
<line x1="699.2" y1="224.5" x2="699.2" y2="277.6" stroke-width="0.6" stroke="#999"/>
<rect x="700.7" y="226" width="5.6" height="9" stroke-width="1.2" rx="1.5"/>
<line x1="705.5" y1="230.5" x2="690.4" y2="230.5" stroke-width="1"/>
<rect x="700.7" y="267.1" width="5.6" height="9" stroke-width="1.2" rx="1.5"/>
<line x1="705.5" y1="271.6" x2="690.4" y2="271.6" stroke-width="1"/>
<rect x="700.7" y="245.2" width="4.5" height="11.5" stroke-width="0.9"/>
<rect x="705.2" y="245.2" width="5.7" height="11.5" stroke-width="1.6"/>
<circle cx="708" cy="248.4" r="1.4" stroke-width="0.9"/>
<circle cx="708" cy="253.6" r="1.4" stroke-width="0.9"/>
<line x1="705.2" y1="251" x2="710.9" y2="251" stroke-width="1.2"/>
<line x1="710.9" y1="251" x2="689.1" y2="251" stroke-width="0.7" stroke="#777"/>
<line x1="56.2" y1="529.7" x2="298.6" y2="529.7" stroke-width="0.96"/>
<line x1="88.7" y1="529.7" x2="88.7" y2="669" stroke-width="0.96"/>
<line x1="254.4" y1="495" x2="254.4" y2="699.2" stroke-width="0.96"/>
<line x1="88.7" y1="669" x2="254.4" y2="669" stroke-width="0.96"/>
<line x1="98.8" y1="494.6" x2="98.8" y2="534" stroke-width="0.72"/>
<line x1="98.8" y1="545" x2="98.8" y2="570" stroke-width="0.72"/>
<line x1="98.8" y1="496.2" x2="224.3" y2="496.2" stroke-width="0.92"/>
<polygon points="98.8,496.2 102.8,494.9 102.8,497.5" fill="#333" stroke="none"/>
<polygon points="224.3,496.2 220.3,497.5 220.3,494.9" fill="#333" stroke="none"/>
<text fill="#222" stroke="#222" stroke-width="0.3" x="163.8" y="490.7" font-size="9" text-anchor="middle" dominant-baseline="central" letter-spacing="-0.1">129</text>
<line x1="224.3" y1="496.2" x2="254.4" y2="496.2" stroke-width="0.92"/>
<polygon points="224.3,496.2 228.3,494.9 228.3,497.5" fill="#333" stroke="none"/>
<polygon points="254.4,496.2 250.4,497.5 250.4,494.9" fill="#333" stroke="none"/>
<text fill="#222" stroke="#222" stroke-width="0.3" x="239.3" y="490.7" font-size="9" text-anchor="middle" dominant-baseline="central" letter-spacing="-0.1">31</text>
<line x1="224.3" y1="494" x2="224.3" y2="534" stroke-width="0.92"/>
<line x1="232.3" y1="509.5" x2="282.5" y2="509.5" stroke-width="0.92"/>
<polygon points="242.8,509.5 238.8,510.8 238.8,508.2" fill="#333" stroke="none"/>
<polygon points="254.4,509.5 258.4,508.2 258.4,510.8" fill="#333" stroke="none"/>
<text fill="#222" stroke="#222" stroke-width="0.3" x="274.5" y="504.5" font-size="9" text-anchor="middle" dominant-baseline="central" letter-spacing="-0.1">11.5</text>
<line x1="242.8" y1="508" x2="242.8" y2="534" stroke-width="0.92"/>
<line x1="242.8" y1="545" x2="242.8" y2="570" stroke-width="0.92"/>
<line x1="121.2" y1="508.6" x2="121.2" y2="549" stroke-width="0.92"/>
<polygon points="121.2,529.7 119.9,525.7 122.5,525.7" fill="#333" stroke="none"/>
<polygon points="121.2,539.7 122.5,543.7 119.9,543.7" fill="#333" stroke="none"/>
<text fill="#222" stroke="#222" stroke-width="0.3" x="115.5" y="512.4" font-size="9" text-anchor="middle" dominant-baseline="central" transform="rotate(-90 115.5 512.4)" letter-spacing="-0.1">10</text>
<line x1="270" y1="520.2" x2="270" y2="560.3" stroke-width="0.92"/>
<polygon points="270,529.7 268.7,525.7 271.3,525.7" fill="#333" stroke="none"/>
<polygon points="270,539.7 271.3,543.7 268.7,543.7" fill="#333" stroke="none"/>
<text fill="#222" stroke="#222" stroke-width="0.3" x="264.4" y="551.7" font-size="9" text-anchor="middle" dominant-baseline="central" transform="rotate(-90 264.4 551.7)" letter-spacing="-0.1">10</text>
<line x1="92.7" y1="539.7" x2="122.6" y2="539.7" stroke-width="0.92"/>
<line x1="56" y1="574.9" x2="105" y2="574.9" stroke-width="0.92"/>
<line x1="56.6" y1="654.4" x2="134" y2="654.4" stroke-width="0.92"/>
<line x1="58.1" y1="529.7" x2="58.1" y2="654.4" stroke-width="0.92"/>
<polygon points="58.1,529.7 59.4,533.7 56.8,533.7" fill="#333" stroke="none"/>
<polygon points="58.1,574.9 56.8,570.9 59.4,570.9" fill="#333" stroke="none"/>
<text fill="#222" stroke="#222" stroke-width="0.3" x="52.3" y="550.7" font-size="9" text-anchor="middle" dominant-baseline="central" transform="rotate(-90 52.3 550.7)" letter-spacing="-0.1">46</text>
<polygon points="58.1,574.9 59.4,578.9 56.8,578.9" fill="#333" stroke="none"/>
<polygon points="58.1,654.4 56.8,650.4 59.4,650.4" fill="#333" stroke="none"/>
<text fill="#222" stroke="#222" stroke-width="0.3" x="52.3" y="613" font-size="9" text-anchor="middle" dominant-baseline="central" transform="rotate(-90 52.3 613)" letter-spacing="-0.1">82</text>
<circle cx="98.8" cy="539.7" r="4.9" stroke-width="0.8"/>
<line x1="91.4" y1="539.7" x2="106.2" y2="539.7" stroke-width="0.64"/>
<line x1="98.8" y1="532.3" x2="98.8" y2="547.1" stroke-width="0.64"/>
<circle cx="98.8" cy="574.9" r="4" stroke-width="1.28"/>
<circle cx="98.8" cy="574.9" r="2" stroke-width="0.64"/>
<line x1="92.3" y1="574.9" x2="105.3" y2="574.9" stroke-width="0.64"/>
<line x1="98.8" y1="568.4" x2="98.8" y2="581.4" stroke-width="0.64"/>
<circle cx="112.5" cy="654.4" r="4.7" stroke-width="0.8"/>
<line x1="105.3" y1="654.4" x2="119.7" y2="654.4" stroke-width="0.64"/>
<line x1="112.5" y1="647.2" x2="112.5" y2="661.6" stroke-width="0.64"/>
<circle cx="129.4" cy="654.4" r="3.8" stroke-width="1.28"/>
<circle cx="129.4" cy="654.4" r="1.8" stroke-width="0.64"/>
<line x1="123.1" y1="654.4" x2="135.7" y2="654.4" stroke-width="0.64"/>
<line x1="129.4" y1="648.1" x2="129.4" y2="660.7" stroke-width="0.64"/>
<circle cx="223.9" cy="537.7" r="3.5" stroke-width="1.28"/>
<circle cx="223.9" cy="537.7" r="1.7" stroke-width="0.64"/>
<line x1="217.9" y1="537.7" x2="229.9" y2="537.7" stroke-width="0.64"/>
<line x1="223.9" y1="531.7" x2="223.9" y2="543.7" stroke-width="0.64"/>
<circle cx="242.8" cy="539.7" r="4.2" stroke-width="0.8"/>
<line x1="236.1" y1="539.7" x2="249.5" y2="539.7" stroke-width="0.64"/>
<line x1="242.8" y1="533" x2="242.8" y2="546.4" stroke-width="0.64"/>
<circle cx="242.8" cy="574.4" r="3.8" stroke-width="1.28"/>
<circle cx="242.8" cy="574.4" r="1.8" stroke-width="0.64"/>
<line x1="236.5" y1="574.4" x2="249.1" y2="574.4" stroke-width="0.64"/>
<line x1="242.8" y1="568.1" x2="242.8" y2="580.7" stroke-width="0.64"/>
<circle cx="228" cy="627.6" r="3.8" stroke-width="1.28"/>
<circle cx="228" cy="627.6" r="1.8" stroke-width="0.64"/>
<line x1="221.7" y1="627.6" x2="234.3" y2="627.6" stroke-width="0.64"/>
<line x1="228" y1="621.3" x2="228" y2="633.9" stroke-width="0.64"/>
<circle cx="228" cy="644.6" r="4.7" stroke-width="0.8"/>
<line x1="220.8" y1="644.6" x2="235.2" y2="644.6" stroke-width="0.64"/>
<line x1="228" y1="637.4" x2="228" y2="651.8" stroke-width="0.64"/>
<line x1="248" y1="539.7" x2="272.5" y2="539.7" stroke-width="0.92"/>
<line x1="238.3" y1="574.4" x2="286.5" y2="574.4" stroke-width="0.92"/>
<line x1="232" y1="627.6" x2="284.8" y2="627.6" stroke-width="0.92"/>
<line x1="232" y1="644.6" x2="298" y2="644.6" stroke-width="0.92"/>
<line x1="283.7" y1="529.7" x2="283.7" y2="627.6" stroke-width="0.92"/>
<polygon points="283.7,529.7 285,533.7 282.4,533.7" fill="#333" stroke="none"/>
<polygon points="283.7,574.4 282.4,570.4 285,570.4" fill="#333" stroke="none"/>
<text fill="#222" stroke="#222" stroke-width="0.3" x="278.5" y="550.4" font-size="9" text-anchor="middle" dominant-baseline="central" transform="rotate(-90 278.5 550.4)" letter-spacing="-0.1">46</text>
<polygon points="283.7,574.4 285,578.4 282.4,578.4" fill="#333" stroke="none"/>
<polygon points="283.7,627.6 282.4,623.6 285,623.6" fill="#333" stroke="none"/>
<text fill="#222" stroke="#222" stroke-width="0.3" x="278.5" y="599.4" font-size="9" text-anchor="middle" dominant-baseline="central" transform="rotate(-90 278.5 599.4)" letter-spacing="-0.1">55</text>
<line x1="296.4" y1="529.7" x2="296.4" y2="644.6" stroke-width="0.92"/>
<polygon points="296.4,529.7 297.7,533.7 295.1,533.7" fill="#333" stroke="none"/>
<polygon points="296.4,644.6 295.1,640.6 297.7,640.6" fill="#333" stroke="none"/>
<text fill="#222" stroke="#222" stroke-width="0.3" x="290.5" y="585.4" font-size="9" text-anchor="middle" dominant-baseline="central" transform="rotate(-90 290.5 585.4)" letter-spacing="-0.1">118</text>
<circle cx="183.1" cy="557.3" r="26.6" stroke-width="0.88"/>
<circle cx="168.4" cy="542.3" r="4.3" stroke-width="1.44" stroke="#888"/>
<circle cx="168.4" cy="542.3" r="2.4" stroke-width="0.56"/>
<line x1="171.5" y1="545.5" x2="165.3" y2="539.1" stroke-width="0.96"/>
<circle cx="168.4" cy="572.3" r="4.3" stroke-width="1.44" stroke="#888"/>
<circle cx="168.4" cy="572.3" r="2.4" stroke-width="0.56"/>
<line x1="171.5" y1="569.1" x2="165.3" y2="575.5" stroke-width="0.96"/>
<circle cx="197.8" cy="542.3" r="4.3" stroke-width="1.44" stroke="#888"/>
<circle cx="197.8" cy="542.3" r="2.4" stroke-width="0.56"/>
<line x1="194.7" y1="545.5" x2="200.9" y2="539.1" stroke-width="0.96"/>
<circle cx="197.8" cy="572.3" r="4.3" stroke-width="1.44" stroke="#888"/>
<circle cx="197.8" cy="572.3" r="2.4" stroke-width="0.56"/>
<line x1="194.7" y1="569.1" x2="200.9" y2="575.5" stroke-width="0.96"/>
<line x1="154" y1="557.3" x2="211.2" y2="557.3" stroke-width="0.64"/>
<line x1="183.1" y1="530.2" x2="183.1" y2="586" stroke-width="0.64"/>
<circle cx="161.4" cy="637.6" r="26.3" stroke-width="0.88"/>
<circle cx="161.4" cy="637.6" r="14.1" stroke-width="1.04"/>
<circle cx="161.4" cy="637.6" r="8.3" stroke-width="1.04"/>
<circle cx="146.9" cy="623.3" r="4.3" stroke-width="1.44" stroke="#888"/>
<circle cx="146.9" cy="623.3" r="2.4" stroke-width="0.56"/>
<line x1="150.1" y1="626.4" x2="143.7" y2="620.2" stroke-width="0.96"/>
<circle cx="146.9" cy="651.9" r="4.3" stroke-width="1.44" stroke="#888"/>
<circle cx="146.9" cy="651.9" r="2.4" stroke-width="0.56"/>
<line x1="150.1" y1="648.8" x2="143.7" y2="655" stroke-width="0.96"/>
<circle cx="175.9" cy="623.3" r="4.3" stroke-width="1.44" stroke="#888"/>
<circle cx="175.9" cy="623.3" r="2.4" stroke-width="0.56"/>
<line x1="172.7" y1="626.4" x2="179.1" y2="620.2" stroke-width="0.96"/>
<circle cx="175.9" cy="651.9" r="4.3" stroke-width="1.44" stroke="#888"/>
<circle cx="175.9" cy="651.9" r="2.4" stroke-width="0.56"/>
<line x1="172.7" y1="648.8" x2="179.1" y2="655" stroke-width="0.96"/>
<line x1="132.4" y1="637.6" x2="190.4" y2="637.6" stroke-width="0.64"/>
<line x1="161.4" y1="608.6" x2="161.4" y2="665.6" stroke-width="0.64"/>
<line x1="129.4" y1="685" x2="228" y2="685" stroke-width="0.92"/>
<polygon points="129.4,685 133.4,683.7 133.4,686.3" fill="#333" stroke="none"/>
<polygon points="228,685 224,686.3 224,683.7" fill="#333" stroke="none"/>
<text fill="#222" stroke="#222" stroke-width="0.3" x="180.2" y="679" font-size="9" text-anchor="middle" dominant-baseline="central" letter-spacing="-0.1">101.5</text>
<line x1="228" y1="685" x2="253.8" y2="685" stroke-width="0.92"/>
<polygon points="228,685 232,683.7 232,686.3" fill="#333" stroke="none"/>
<polygon points="253.8,685 249.8,686.3 249.8,683.7" fill="#333" stroke="none"/>
<text fill="#222" stroke="#222" stroke-width="0.3" x="242.5" y="679" font-size="9" text-anchor="middle" dominant-baseline="central" letter-spacing="-0.1">26.5</text>
<line x1="112.5" y1="697.3" x2="253.8" y2="697.3" stroke-width="0.92"/>
<polygon points="112.5,697.3 116.5,696 116.5,698.6" fill="#333" stroke="none"/>
<polygon points="253.8,697.3 249.8,698.6 249.8,696" fill="#333" stroke="none"/>
<text fill="#222" stroke="#222" stroke-width="0.3" x="185" y="691.6" font-size="9" text-anchor="middle" dominant-baseline="central" letter-spacing="-0.1">145</text>
<line x1="112.5" y1="659" x2="112.5" y2="699.5" stroke-width="0.92"/>
<line x1="129.4" y1="658" x2="129.4" y2="687" stroke-width="0.92"/>
<line x1="228" y1="649" x2="228" y2="687" stroke-width="0.92"/>
<polyline points="88.7,577.1 82.3,577.1 82.3,622.6 88.7,622.6" stroke-width="1.04"/>
<rect x="76.3" y="577.5" width="6" height="7.7" stroke-width="0.96" rx="1.5"/>
<line x1="77.1" y1="581.4" x2="89.9" y2="581.4" stroke-width="0.8"/>
<rect x="76.3" y="613.4" width="6" height="7.7" stroke-width="0.96" rx="1.5"/>
<line x1="77.1" y1="617.3" x2="89.9" y2="617.3" stroke-width="0.8"/>
<rect x="77.5" y="594.5" width="4.8" height="9.5" stroke-width="0.72"/>
<rect x="71.8" y="594.5" width="5.7" height="9.5" stroke-width="1.28"/>
<circle cx="74.7" cy="596.7" r="1.4" stroke-width="0.72"/>
<circle cx="74.7" cy="601.9" r="1.4" stroke-width="0.72"/>
<line x1="71.8" y1="599.3" x2="77.5" y2="599.3" stroke-width="0.96"/>
<line x1="71.8" y1="599.3" x2="91.2" y2="599.3" stroke-width="0.56" stroke="#777"/>
<polyline points="254.4,576.4 260.4,576.4 260.4,622.6 254.4,622.6" stroke-width="1.04"/>
<rect x="260.4" y="576.5" width="7" height="7.7" stroke-width="0.96" rx="1.5"/>
<line x1="266.6" y1="580.4" x2="253.2" y2="580.4" stroke-width="0.8"/>
<rect x="260.4" y="614.8" width="7" height="7.7" stroke-width="0.96" rx="1.5"/>
<line x1="266.6" y1="618.6" x2="253.2" y2="618.6" stroke-width="0.8"/>
<rect x="260.4" y="593.8" width="5.6" height="9.5" stroke-width="0.72"/>
<rect x="266" y="593.8" width="5" height="9.5" stroke-width="1.28"/>
<circle cx="268.5" cy="595.9" r="1.4" stroke-width="0.72"/>
<circle cx="268.5" cy="601.1" r="1.4" stroke-width="0.72"/>
<line x1="266" y1="598.5" x2="271" y2="598.5" stroke-width="0.96"/>
<line x1="271" y1="598.5" x2="251.9" y2="598.5" stroke-width="0.56" stroke="#777"/>
<line x1="327.6" y1="504.6" x2="423.3" y2="504.6" stroke-width="0.92"/>
<polygon points="327.6,504.6 331.6,503.3 331.6,505.9" fill="#333" stroke="none"/>
<polygon points="376.5,504.6 372.5,505.9 372.5,503.3" fill="#333" stroke="none"/>
<polygon points="376.5,504.6 380.5,503.3 380.5,505.9" fill="#333" stroke="none"/>
<polygon points="423.3,504.6 419.3,505.9 419.3,503.3" fill="#333" stroke="none"/>
<text fill="#222" stroke="#222" stroke-width="0.3" x="353" y="499" font-size="9" text-anchor="middle" dominant-baseline="central" letter-spacing="-0.1">50</text>
<text fill="#222" stroke="#222" stroke-width="0.3" x="401.3" y="499" font-size="9" text-anchor="middle" dominant-baseline="central" letter-spacing="-0.1">48</text>
<line x1="376.5" y1="517.4" x2="396.1" y2="517.4" stroke-width="0.92"/>
<polygon points="376.5,517.4 380.5,516.1 380.5,518.7" fill="#333" stroke="none"/>
<polygon points="396.1,517.4 392.1,518.7 392.1,516.1" fill="#333" stroke="none"/>
<text fill="#222" stroke="#222" stroke-width="0.3" x="387.3" y="512.1" font-size="9" text-anchor="middle" dominant-baseline="central" letter-spacing="-0.1">20</text>
<line x1="376.6" y1="502" x2="376.6" y2="688" stroke-width="0.96"/>
<line x1="423.2" y1="502" x2="423.2" y2="688" stroke-width="0.96"/>
<line x1="376.6" y1="530" x2="423.2" y2="530" stroke-width="0.96"/>
<line x1="376.6" y1="668.5" x2="423.2" y2="668.5" stroke-width="0.96"/>
<line x1="327.6" y1="502" x2="327.6" y2="563.4" stroke-width="0.92"/>
<line x1="396.1" y1="516" x2="396.1" y2="534" stroke-width="0.72"/>
<line x1="396.1" y1="540" x2="396.1" y2="672" stroke-width="0.72" stroke-dasharray="9,3"/>
<rect x="360.9" y="542.4" width="15.7" height="28.9" stroke-width="0.96"/>
<polyline points="360.9,549.4 340.7,549.4 327.6,550.2 327.6,563.2 340.7,564 360.9,564" stroke-width="0.96"/>
<line x1="340.7" y1="549.4" x2="340.7" y2="564" stroke-width="0.72"/>
<line x1="325" y1="556.8" x2="380" y2="556.8" stroke-width="0.64"/>
<defs><clipPath id="cp5"><rect x="379.7" y="570" width="50" height="60"/></clipPath></defs>
<g clip-path="url(#cp5)">
<circle cx="396.1" cy="601" r="22.8" stroke-width="1.76"/>
</g>
<line x1="379.9" y1="585.5" x2="379.9" y2="616.5" stroke-width="1.28"/>
<circle cx="396.1" cy="601" r="4.9" stroke-width="0.8"/>
<circle cx="383.7" cy="588.8" r="4.1" stroke-width="1.44" stroke="#888"/>
<circle cx="383.7" cy="588.8" r="2.2" stroke-width="0.56"/>
<line x1="386.6" y1="591.7" x2="380.8" y2="585.9" stroke-width="0.96"/>
<circle cx="383.7" cy="613.2" r="4.1" stroke-width="1.44" stroke="#888"/>
<circle cx="383.7" cy="613.2" r="2.2" stroke-width="0.56"/>
<line x1="386.6" y1="610.3" x2="380.8" y2="616.1" stroke-width="0.96"/>
<circle cx="408.5" cy="588.8" r="4.1" stroke-width="1.44" stroke="#888"/>
<circle cx="408.5" cy="588.8" r="2.2" stroke-width="0.56"/>
<line x1="405.6" y1="591.7" x2="411.4" y2="585.9" stroke-width="0.96"/>
<circle cx="408.5" cy="613.2" r="4.1" stroke-width="1.44" stroke="#888"/>
<circle cx="408.5" cy="613.2" r="2.2" stroke-width="0.56"/>
<line x1="405.6" y1="610.3" x2="411.4" y2="616.1" stroke-width="0.96"/>
<line x1="374" y1="601" x2="420" y2="601" stroke-width="0.64"/>
<rect x="360.6" y="623.7" width="16" height="28.8" stroke-width="0.96"/>
<polyline points="360.6,630.5 334.1,630.5 320.7,631.3 320.7,644.3 334.1,645.1 360.6,645.1" stroke-width="0.96"/>
<line x1="334.1" y1="630.5" x2="334.1" y2="645.1" stroke-width="0.72"/>
<polyline points="423.2,630.5 468.3,630.5 482.4,631.3 482.4,644.4 468.3,645.2 423.2,645.2" stroke-width="0.96"/>
<line x1="468.3" y1="630.5" x2="468.3" y2="645.2" stroke-width="0.72"/>
<line x1="318" y1="637.6" x2="484" y2="637.6" stroke-width="0.72" stroke-dasharray="9,3.5"/>
<line x1="320.7" y1="686.7" x2="376.6" y2="686.7" stroke-width="0.92"/>
<polygon points="320.7,686.7 324.7,685.4 324.7,688" fill="#333" stroke="none"/>
<polygon points="376.6,686.7 372.6,688 372.6,685.4" fill="#333" stroke="none"/>
<text fill="#222" stroke="#222" stroke-width="0.3" x="350.1" y="680.3" font-size="9" text-anchor="middle" dominant-baseline="central" letter-spacing="-0.1">57</text>
<line x1="423.2" y1="686.7" x2="482.4" y2="686.7" stroke-width="0.92"/>
<polygon points="423.2,686.7 427.2,685.4 427.2,688" fill="#333" stroke="none"/>
<polygon points="482.4,686.7 478.4,688 478.4,685.4" fill="#333" stroke="none"/>
<text fill="#222" stroke="#222" stroke-width="0.3" x="454" y="680.8" font-size="9" text-anchor="middle" dominant-baseline="central" letter-spacing="-0.1">60</text>
<line x1="320.7" y1="645" x2="320.7" y2="689" stroke-width="0.92"/>
<line x1="482.4" y1="645" x2="482.4" y2="689" stroke-width="0.92"/>
<line x1="505.8" y1="531" x2="759.4" y2="531" stroke-width="0.96"/>
<line x1="505.8" y1="669.8" x2="759.4" y2="669.8" stroke-width="0.96"/>
<line x1="550.6" y1="501" x2="550.6" y2="710.3" stroke-width="0.96"/>
<line x1="715.3" y1="531" x2="715.3" y2="709.7" stroke-width="0.96"/>
<line x1="550.6" y1="502.6" x2="666.2" y2="502.6" stroke-width="0.92"/>
<polygon points="550.6,502.6 554.6,501.3 554.6,503.9" fill="#333" stroke="none"/>
<polygon points="666.2,502.6 662.2,503.9 662.2,501.3" fill="#333" stroke="none"/>
<text fill="#222" stroke="#222" stroke-width="0.3" x="610.3" y="496.7" font-size="9" text-anchor="middle" dominant-baseline="central" letter-spacing="-0.1">119</text>
<line x1="666.2" y1="502.6" x2="683.7" y2="502.6" stroke-width="0.92"/>
<polygon points="666.2,502.6 670.2,501.3 670.2,503.9" fill="#333" stroke="none"/>
<polygon points="683.7,502.6 679.7,503.9 679.7,501.3" fill="#333" stroke="none"/>
<text fill="#222" stroke="#222" stroke-width="0.3" x="676.5" y="496.8" font-size="9" text-anchor="middle" dominant-baseline="central" letter-spacing="-0.1">18</text>
<line x1="550.6" y1="514.6" x2="621.4" y2="514.6" stroke-width="0.92"/>
<polygon points="550.6,514.6 554.6,513.3 554.6,515.9" fill="#333" stroke="none"/>
<polygon points="582.2,514.6 578.2,515.9 578.2,513.3" fill="#333" stroke="none"/>
<polygon points="582.2,514.6 586.2,513.3 586.2,515.9" fill="#333" stroke="none"/>
<polygon points="621.4,514.6 617.4,515.9 617.4,513.3" fill="#333" stroke="none"/>
<text fill="#222" stroke="#222" stroke-width="0.3" x="567.3" y="508.6" font-size="9" text-anchor="middle" dominant-baseline="central" letter-spacing="-0.1">33</text>
<text fill="#222" stroke="#222" stroke-width="0.3" x="603.3" y="508.6" font-size="9" text-anchor="middle" dominant-baseline="central" letter-spacing="-0.1">40</text>
<line x1="582.2" y1="513" x2="582.2" y2="568" stroke-width="0.92"/>
<line x1="621.4" y1="513" x2="621.4" y2="532" stroke-width="0.92"/>
<line x1="666.2" y1="501" x2="666.2" y2="618" stroke-width="0.92"/>
<line x1="683.7" y1="501" x2="683.7" y2="568" stroke-width="0.92"/>
<line x1="507.6" y1="531" x2="507.6" y2="609" stroke-width="0.92"/>
<polygon points="507.6,531 508.9,535 506.3,535" fill="#333" stroke="none"/>
<polygon points="507.6,609 506.3,605 508.9,605" fill="#333" stroke="none"/>
<text fill="#222" stroke="#222" stroke-width="0.3" x="502.3" y="568.4" font-size="9" text-anchor="middle" dominant-baseline="central" transform="rotate(-90 502.3 568.4)" letter-spacing="-0.1">80</text>
<line x1="507.6" y1="629.5" x2="507.6" y2="669.8" stroke-width="0.92"/>
<polygon points="507.6,629.5 508.9,633.5 506.3,633.5" fill="#333" stroke="none"/>
<polygon points="507.6,669.8 506.3,665.8 508.9,665.8" fill="#333" stroke="none"/>
<text fill="#222" stroke="#222" stroke-width="0.3" x="502.2" y="648.4" font-size="9" text-anchor="middle" dominant-baseline="central" transform="rotate(-90 502.2 648.4)" letter-spacing="-0.1">42</text>
<line x1="522" y1="531" x2="522" y2="595.9" stroke-width="0.92"/>
<polygon points="522,531 523.3,535 520.7,535" fill="#333" stroke="none"/>
<polygon points="522,558.2 520.7,554.2 523.3,554.2" fill="#333" stroke="none"/>
<text fill="#222" stroke="#222" stroke-width="0.3" x="516.3" y="543" font-size="9" text-anchor="middle" dominant-baseline="central" transform="rotate(-90 516.3 543)" letter-spacing="-0.1">28</text>
<polygon points="522,558.2 523.3,562.2 520.7,562.2" fill="#333" stroke="none"/>
<polygon points="522,595.9 520.7,591.9 523.3,591.9" fill="#333" stroke="none"/>
<text fill="#222" stroke="#222" stroke-width="0.3" x="516.3" y="575.4" font-size="9" text-anchor="middle" dominant-baseline="central" transform="rotate(-90 516.3 575.4)" letter-spacing="-0.1">39</text>
<line x1="519.9" y1="558.2" x2="695" y2="558.2" stroke-width="0.72"/>
<line x1="519.9" y1="595.9" x2="632" y2="595.9" stroke-width="0.92"/>
<line x1="505.8" y1="609" x2="678" y2="609" stroke-width="0.92"/>
<line x1="505.8" y1="629.5" x2="606" y2="629.5" stroke-width="0.92"/>
<line x1="533" y1="595.3" x2="533" y2="656" stroke-width="0.92"/>
<line x1="533" y1="654.1" x2="550.6" y2="654.1" stroke-width="0.92"/>
<polygon points="533,654.1 537,652.8 537,655.4" fill="#333" stroke="none"/>
<polygon points="550.6,654.1 546.6,655.4 546.6,652.8" fill="#333" stroke="none"/>
<text fill="#222" stroke="#222" stroke-width="0.3" x="542.7" y="647.1" font-size="9" text-anchor="middle" dominant-baseline="central" letter-spacing="-0.1">17</text>
<circle cx="561.1" cy="540.6" r="5" stroke-width="0.8"/>
<line x1="553.6" y1="540.6" x2="568.6" y2="540.6" stroke-width="0.64"/>
<line x1="561.1" y1="533.1" x2="561.1" y2="548.1" stroke-width="0.64"/>
<circle cx="580.5" cy="538.8" r="3.7" stroke-width="1.28"/>
<circle cx="580.5" cy="538.8" r="1.8" stroke-width="0.64"/>
<line x1="574.3" y1="538.8" x2="586.7" y2="538.8" stroke-width="0.64"/>
<line x1="580.5" y1="532.6" x2="580.5" y2="545" stroke-width="0.64"/>
<circle cx="561.1" cy="575.7" r="3.8" stroke-width="1.28"/>
<circle cx="561.1" cy="575.7" r="1.8" stroke-width="0.64"/>
<line x1="554.8" y1="575.7" x2="567.4" y2="575.7" stroke-width="0.64"/>
<line x1="561.1" y1="569.4" x2="561.1" y2="582" stroke-width="0.64"/>
<line x1="561.1" y1="545" x2="561.1" y2="572" stroke-width="0.92"/>
<text fill="#222" stroke="#222" stroke-width="0.3" x="570.5" y="574.9" font-size="8.5" text-anchor="start" dominant-baseline="central" textLength="6" lengthAdjust="spacingAndGlyphs">T</text>
<text fill="#222" stroke="#222" stroke-width="0.3" x="513.7" y="507.2" font-size="9" text-anchor="start" dominant-baseline="central" textLength="23.7" lengthAdjust="spacingAndGlyphs">5−Φ9</text>
<polyline points="510.7,512.5 533.9,512.5 572.6,550.3" stroke-width="1"/>
<polygon points="572.6,550.3 568.8,548.4 570.6,546.6" fill="#333" stroke="none"/>
<circle cx="582.2" cy="558.2" r="9.7" stroke-width="1.28"/>
<circle cx="582.2" cy="558.2" r="7" stroke-width="0.8"/>
<line x1="569.5" y1="558.2" x2="594.9" y2="558.2" stroke-width="0.64"/>
<line x1="582.2" y1="545.5" x2="582.2" y2="570.9" stroke-width="0.64"/>
<circle cx="621.4" cy="558.3" r="25.9" stroke-width="0.88"/>
<circle cx="621.4" cy="558.3" r="14" stroke-width="1.04"/>
<circle cx="621.4" cy="558.3" r="7.8" stroke-width="1.04"/>
<circle cx="606.9" cy="543.6" r="4.4" stroke-width="1.44" stroke="#888"/>
<circle cx="606.9" cy="543.6" r="2.4" stroke-width="0.56"/>
<line x1="610.1" y1="546.8" x2="603.7" y2="540.5" stroke-width="0.96"/>
<circle cx="606.9" cy="572.9" r="4.4" stroke-width="1.44" stroke="#888"/>
<circle cx="606.9" cy="572.9" r="2.4" stroke-width="0.56"/>
<line x1="610.1" y1="569.8" x2="603.7" y2="576.1" stroke-width="0.96"/>
<circle cx="635.9" cy="543.6" r="4.4" stroke-width="1.44" stroke="#888"/>
<circle cx="635.9" cy="543.6" r="2.4" stroke-width="0.56"/>
<line x1="632.7" y1="546.8" x2="639.1" y2="540.5" stroke-width="0.96"/>
<circle cx="635.9" cy="572.9" r="4.4" stroke-width="1.44" stroke="#888"/>
<circle cx="635.9" cy="572.9" r="2.4" stroke-width="0.56"/>
<line x1="632.7" y1="569.8" x2="639.1" y2="576.1" stroke-width="0.96"/>
<line x1="591.4" y1="558.3" x2="651.4" y2="558.3" stroke-width="0.64"/>
<line x1="621.4" y1="531.3" x2="621.4" y2="588.3" stroke-width="0.64"/>
<circle cx="621.4" cy="595.2" r="10" stroke-width="1.28"/>
<circle cx="621.4" cy="595.2" r="7" stroke-width="0.8"/>
<line x1="608.4" y1="595.2" x2="634.4" y2="595.2" stroke-width="0.64"/>
<line x1="621.4" y1="582.2" x2="621.4" y2="608.2" stroke-width="0.64"/>
<text fill="#222" stroke="#222" stroke-width="0.3" x="631.5" y="604.5" font-size="9" text-anchor="start" dominant-baseline="central" textLength="12" lengthAdjust="spacingAndGlyphs">BA</text>
<circle cx="683.7" cy="558.3" r="9.7" stroke-width="1.28"/>
<circle cx="683.7" cy="558.3" r="7" stroke-width="0.8"/>
<line x1="671" y1="558.3" x2="696.4" y2="558.3" stroke-width="0.64"/>
<line x1="683.7" y1="545.6" x2="683.7" y2="571" stroke-width="0.64"/>
<text fill="#222" stroke="#222" stroke-width="0.3" x="689" y="574.1" font-size="9" text-anchor="start" dominant-baseline="central" textLength="6" lengthAdjust="spacingAndGlyphs">P</text>
<circle cx="706.1" cy="540.6" r="5" stroke-width="0.8"/>
<line x1="698.6" y1="540.6" x2="713.6" y2="540.6" stroke-width="0.64"/>
<line x1="706.1" y1="533.1" x2="706.1" y2="548.1" stroke-width="0.64"/>
<circle cx="706.1" cy="575.8" r="3.7" stroke-width="1.28"/>
<circle cx="706.1" cy="575.8" r="1.8" stroke-width="0.64"/>
<line x1="699.9" y1="575.8" x2="712.3" y2="575.8" stroke-width="0.64"/>
<line x1="706.1" y1="569.6" x2="706.1" y2="582" stroke-width="0.64"/>
<line x1="706.1" y1="545" x2="706.1" y2="572" stroke-width="0.92"/>
<circle cx="666.4" cy="608.1" r="10" stroke-width="1.28"/>
<circle cx="666.4" cy="608.1" r="7" stroke-width="0.8"/>
<line x1="653.4" y1="608.1" x2="679.4" y2="608.1" stroke-width="0.64"/>
<line x1="666.4" y1="595.1" x2="666.4" y2="621.1" stroke-width="0.64"/>
<circle cx="643.1" cy="638.6" r="26" stroke-width="0.88"/>
<circle cx="643.1" cy="638.6" r="14.3" stroke-width="1.04"/>
<circle cx="643.1" cy="638.6" r="7.6" stroke-width="1.04"/>
<circle cx="628.6" cy="623.7" r="4.4" stroke-width="1.44" stroke="#888"/>
<circle cx="628.6" cy="623.7" r="2.4" stroke-width="0.56"/>
<line x1="631.7" y1="626.9" x2="625.5" y2="620.5" stroke-width="0.96"/>
<circle cx="628.6" cy="653.5" r="4.4" stroke-width="1.44" stroke="#888"/>
<circle cx="628.6" cy="653.5" r="2.4" stroke-width="0.56"/>
<line x1="631.7" y1="650.3" x2="625.5" y2="656.7" stroke-width="0.96"/>
<circle cx="657.6" cy="623.7" r="4.4" stroke-width="1.44" stroke="#888"/>
<circle cx="657.6" cy="623.7" r="2.4" stroke-width="0.56"/>
<line x1="654.5" y1="626.9" x2="660.7" y2="620.5" stroke-width="0.96"/>
<circle cx="657.6" cy="653.5" r="4.4" stroke-width="1.44" stroke="#888"/>
<circle cx="657.6" cy="653.5" r="2.4" stroke-width="0.56"/>
<line x1="654.5" y1="650.3" x2="660.7" y2="656.7" stroke-width="0.96"/>
<line x1="615.1" y1="638.6" x2="672.1" y2="638.6" stroke-width="0.64"/>
<line x1="643.1" y1="611.6" x2="643.1" y2="696.6" stroke-width="0.64"/>
<circle cx="576.1" cy="629.5" r="3.5" stroke-width="1.28"/>
<circle cx="576.1" cy="629.5" r="1.7" stroke-width="0.64"/>
<line x1="570.1" y1="629.5" x2="582.1" y2="629.5" stroke-width="0.64"/>
<line x1="576.1" y1="623.5" x2="576.1" y2="635.5" stroke-width="0.64"/>
<circle cx="576.1" cy="646.2" r="5" stroke-width="0.8"/>
<line x1="568.6" y1="646.2" x2="583.6" y2="646.2" stroke-width="0.64"/>
<line x1="576.1" y1="638.7" x2="576.1" y2="653.7" stroke-width="0.64"/>
<line x1="576.1" y1="633" x2="576.1" y2="641" stroke-width="0.92"/>
<circle cx="598.9" cy="629.5" r="6.1" stroke-width="0.88"/>
<line x1="598.9" y1="622" x2="598.9" y2="637" stroke-width="1.12"/>
<circle cx="675.4" cy="655.5" r="3.5" stroke-width="1.28"/>
<circle cx="675.4" cy="655.5" r="1.7" stroke-width="0.64"/>
<line x1="669.4" y1="655.5" x2="681.4" y2="655.5" stroke-width="0.64"/>
<line x1="675.4" y1="649.5" x2="675.4" y2="661.5" stroke-width="0.64"/>
<circle cx="691.6" cy="655.5" r="5" stroke-width="0.8"/>
<line x1="684.1" y1="655.5" x2="699.1" y2="655.5" stroke-width="0.64"/>
<line x1="691.6" y1="648" x2="691.6" y2="663" stroke-width="0.64"/>
<text fill="#222" stroke="#222" stroke-width="0.3" x="715.9" y="511.7" font-size="9" text-anchor="start" dominant-baseline="central" textLength="34.5" lengthAdjust="spacingAndGlyphs">4−ZG3/2</text>
<polyline points="744.9,516.9 714.5,516.9 671.7,574.2" stroke-width="1"/>
<polygon points="689.5,550.5 690.9,546.5 692.9,548.1" fill="#333" stroke="none"/>
<text fill="#222" stroke="#222" stroke-width="0.3" x="684.9" y="623.9" font-size="9" text-anchor="start" dominant-baseline="central" textLength="28.2" lengthAdjust="spacingAndGlyphs">4−Z1/2</text>
<polyline points="713,628.4 682.6,628.4 673.6,616.6" stroke-width="1"/>
<line x1="655" y1="597" x2="680" y2="621" stroke-width="0.64"/>
<text fill="#222" stroke="#222" stroke-width="0.2" x="659.2" y="680.5" font-size="8" text-anchor="start" dominant-baseline="central" textLength="51.4" lengthAdjust="spacingAndGlyphs">缓冲调节螺丝</text>
<polyline points="599,631.8 657.8,686 707.4,686" stroke-width="1"/>
<line x1="550.6" y1="682.6" x2="598.9" y2="682.6" stroke-width="0.92"/>
<polygon points="550.6,682.6 554.6,681.3 554.6,683.9" fill="#333" stroke="none"/>
<polygon points="598.9,682.6 594.9,683.9 594.9,681.3" fill="#333" stroke="none"/>
<text fill="#222" stroke="#222" stroke-width="0.3" x="576.1" y="677" font-size="9" text-anchor="middle" dominant-baseline="central" letter-spacing="-0.1">50</text>
<line x1="550.6" y1="694.9" x2="643.1" y2="694.9" stroke-width="0.92"/>
<polygon points="550.6,694.9 554.6,693.6 554.6,696.2" fill="#333" stroke="none"/>
<polygon points="643.1,694.9 639.1,696.2 639.1,693.6" fill="#333" stroke="none"/>
<text fill="#222" stroke="#222" stroke-width="0.3" x="598" y="688.9" font-size="9" text-anchor="middle" dominant-baseline="central" letter-spacing="-0.1">95</text>
<line x1="550.6" y1="708" x2="715.3" y2="708" stroke-width="0.92"/>
<polygon points="550.6,708 554.6,706.7 554.6,709.3" fill="#333" stroke="none"/>
<polygon points="715.3,708 711.3,709.3 711.3,706.7" fill="#333" stroke="none"/>
<text fill="#222" stroke="#222" stroke-width="0.3" x="635.2" y="702.2" font-size="9" text-anchor="middle" dominant-baseline="central" letter-spacing="-0.1">170</text>
<line x1="598.9" y1="636" x2="598.9" y2="684" stroke-width="0.92"/>
<line x1="643.1" y1="664" x2="643.1" y2="696.5" stroke-width="0.92"/>
<line x1="744.6" y1="531" x2="744.6" y2="600.5" stroke-width="0.92"/>
<polygon points="744.6,531 745.9,535 743.3,535" fill="#333" stroke="none"/>
<polygon points="744.6,600.5 743.3,596.5 745.9,596.5" fill="#333" stroke="none"/>
<text fill="#222" stroke="#222" stroke-width="0.3" x="738.7" y="564.1" font-size="9" text-anchor="middle" dominant-baseline="central" transform="rotate(-90 738.7 564.1)" letter-spacing="-0.1">73</text>
<line x1="758.3" y1="531" x2="758.3" y2="669.8" stroke-width="0.92"/>
<polygon points="758.3,531 759.6,535 757,535" fill="#333" stroke="none"/>
<polygon points="758.3,669.8 757,665.8 759.6,665.8" fill="#333" stroke="none"/>
<text fill="#222" stroke="#222" stroke-width="0.3" x="752.5" y="598.8" font-size="9" text-anchor="middle" dominant-baseline="central" transform="rotate(-90 752.5 598.8)" letter-spacing="-0.1">143</text>
<line x1="728" y1="600.5" x2="747" y2="600.5" stroke-width="0.92"/>
<line x1="732.7" y1="596" x2="732.7" y2="656" stroke-width="0.92"/>
<line x1="715.3" y1="654.4" x2="732.7" y2="654.4" stroke-width="0.92"/>
<polygon points="715.3,654.4 719.3,653.1 719.3,655.7" fill="#333" stroke="none"/>
<polygon points="732.7,654.4 728.7,655.7 728.7,653.1" fill="#333" stroke="none"/>
<text fill="#222" stroke="#222" stroke-width="0.3" x="725.5" y="647.6" font-size="9" text-anchor="middle" dominant-baseline="central" letter-spacing="-0.1">17</text>
<polyline points="550.6,577.8 543.9,577.8 543.9,623 550.6,623" stroke-width="1.04"/>
<rect x="537.9" y="579" width="6" height="7.8" stroke-width="0.96" rx="1.5"/>
<line x1="538.7" y1="582.9" x2="551.8" y2="582.9" stroke-width="0.8"/>
<rect x="537.9" y="614.7" width="6" height="7.8" stroke-width="0.96" rx="1.5"/>
<line x1="538.7" y1="618.6" x2="551.8" y2="618.6" stroke-width="0.8"/>
<rect x="539.1" y="596" width="4.8" height="9.8" stroke-width="0.72"/>
<rect x="533.1" y="596" width="6" height="9.8" stroke-width="1.28"/>
<circle cx="536.1" cy="598.3" r="1.4" stroke-width="0.72"/>
<circle cx="536.1" cy="603.5" r="1.4" stroke-width="0.72"/>
<line x1="533.1" y1="600.9" x2="539.1" y2="600.9" stroke-width="0.96"/>
<line x1="533.1" y1="600.9" x2="553.1" y2="600.9" stroke-width="0.56" stroke="#777"/>
<polyline points="715.3,577.8 722.2,577.8 722.2,623 715.3,623" stroke-width="1.04"/>
<rect x="722.2" y="578.9" width="6.4" height="7.8" stroke-width="0.96" rx="1.5"/>
<line x1="727.8" y1="582.8" x2="714.1" y2="582.8" stroke-width="0.8"/>
<rect x="722.2" y="614.7" width="6.4" height="7.8" stroke-width="0.96" rx="1.5"/>
<line x1="727.8" y1="618.6" x2="714.1" y2="618.6" stroke-width="0.8"/>
<rect x="722.2" y="596" width="5.1" height="9.8" stroke-width="0.72"/>
<rect x="727.3" y="596" width="5.8" height="9.8" stroke-width="1.28"/>
<circle cx="730.2" cy="598.3" r="1.4" stroke-width="0.72"/>
<circle cx="730.2" cy="603.5" r="1.4" stroke-width="0.72"/>
<line x1="727.3" y1="600.9" x2="733.1" y2="600.9" stroke-width="0.96"/>
<line x1="733.1" y1="600.9" x2="712.8" y2="600.9" stroke-width="0.56" stroke="#777"/>
</svg>
</body></html>
